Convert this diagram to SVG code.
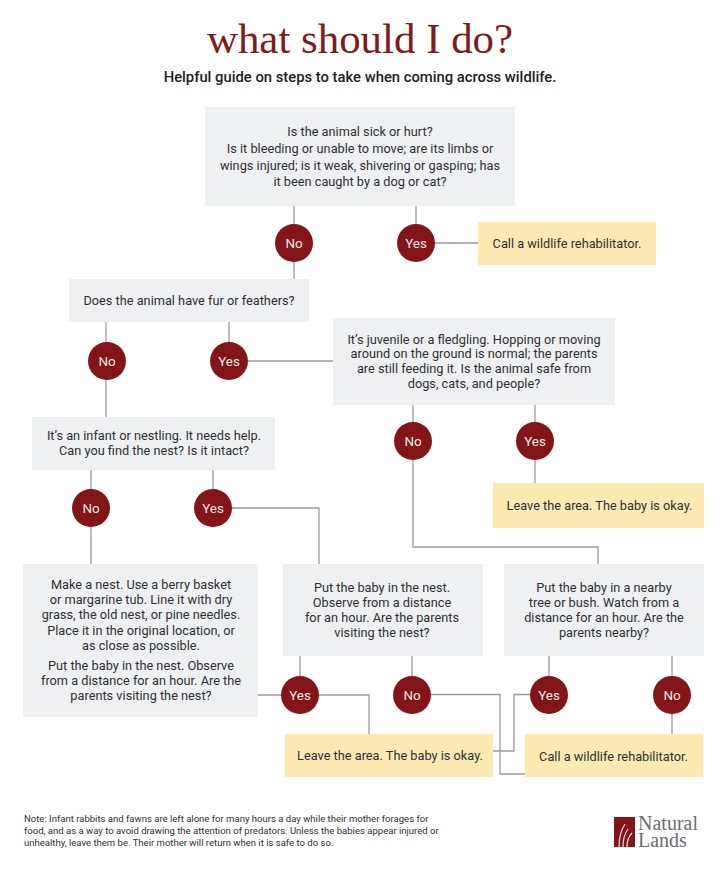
<svg xmlns="http://www.w3.org/2000/svg" width="720" height="871" viewBox="0 0 720 871">
<style>
text{font-family:Roboto,"Liberation Sans",sans-serif;fill:#2e3033;text-anchor:middle;font-size:12.75px}
.g{fill:#eff0f2}.y{fill:#fde9b2}.c{fill:#831518}
.l{fill:#f5e8e8;font-size:13.4px}
.n{text-anchor:start;font-size:9.54px}
.s{font-family:"Liberation Serif",serif;font-size:20px;text-anchor:start;fill:#6d6e70}
#connectors path{fill:none;stroke:#9a9a9a;stroke-width:1.3}
</style>
<rect width="720" height="871" fill="#fff"/>
<text id="title" x="360" y="53" style="font-family:'Liberation Serif',serif;font-size:42.9px;fill:#7f1a20">what should I do?</text>
<text id="subtitle" x="360" y="82" style="font-size:14.8px;font-weight:500;fill:#1e2022">Helpful guide on steps to take when coming across wildlife.</text>
<g id="connectors">
<path d="M294 206V279M416 206V243H478"/>
<path d="M106 322V417M229 322V361H333"/>
<path d="M413 405V547H598V564M535 405V483"/>
<path d="M91 470V564M213 470V508H319V564"/>
<path d="M258 695H369V734M412 656V694.500H500V774H525"/>
<path d="M493 751H514V694.500H549M549 656V695M672 656V734M300 656V695"/>
</g>
<g id="n1"><rect class="g" x="205" y="107" width="310" height="99"/><text x="360" y="136">Is the animal sick or hurt?</text><text x="360" y="153">Is it bleeding or unable to move; are its limbs or</text><text x="360" y="170">wings injured; is it weak, shivering or gasping; has</text><text x="360" y="186">it been caught by a dog or cat?</text></g>
<g id="n2"><rect class="y" x="478" y="222" width="178" height="43"/><text x="567" y="248">Call a wildlife rehabilitator.</text></g>
<g id="n3"><rect class="g" x="69" y="279" width="240" height="43"/><text x="189" y="305">Does the animal have fur or feathers?</text></g>
<g id="n4"><rect class="g" x="333" y="318" width="282" height="87"/><text x="474" y="344">It’s juvenile or a fledgling. Hopping or moving</text><text x="474" y="358">around on the ground is normal; the parents</text><text x="474" y="373">are still feeding it. Is the animal safe from</text><text x="474" y="388">dogs, cats, and people?</text></g>
<g id="n5"><rect class="g" x="32" y="417" width="243" height="53"/><text x="154" y="440">It’s an infant or nestling. It needs help.</text><text x="154" y="455">Can you find the nest? Is it intact?</text></g>
<g id="n6"><rect class="y" x="493" y="483" width="211" height="45"/><text x="599.500" y="510">Leave the area. The baby is okay.</text></g>
<g id="n7"><rect class="g" x="23" y="564" width="235" height="153"/><text x="141" y="589">Make a nest. Use a berry basket</text><text x="141" y="604">or margarine tub. Line it with dry</text><text x="141" y="619">grass, the old nest, or pine needles.</text><text x="141" y="635">Place it in the original location, or</text><text x="141" y="650">as close as possible.</text><text x="141" y="670">Put the baby in the nest. Observe</text><text x="141" y="685">from a distance for an hour. Are the</text><text x="141" y="700">parents visiting the nest?</text></g>
<g id="n8"><rect class="g" x="283" y="564" width="200" height="92"/><text x="382" y="592">Put the baby in the nest.</text><text x="382" y="607">Observe from a distance</text><text x="382" y="622">for an hour. Are the parents</text><text x="382" y="637">visiting the nest?</text></g>
<g id="n9"><rect class="g" x="504" y="564" width="200" height="92"/><text x="604" y="592">Put the baby in a nearby</text><text x="604" y="607">tree or bush. Watch from a</text><text x="604" y="622">distance for an hour. Are the</text><text x="604" y="637">parents nearby?</text></g>
<g id="n10"><rect class="y" x="285" y="734" width="208" height="43"/><text x="390" y="760">Leave the area. The baby is okay.</text></g>
<g id="n11"><rect class="y" x="525" y="734" width="178" height="43"/><text x="613.500" y="761">Call a wildlife rehabilitator.</text></g>
<g id="c1"><circle class="c" cx="294" cy="243" r="19"/><text class="l" x="294" y="248">No</text></g>
<g id="c2"><circle class="c" cx="416" cy="243" r="19"/><text class="l" x="416" y="248">Yes</text></g>
<g id="c3"><circle class="c" cx="107" cy="361" r="19"/><text class="l" x="107" y="366">No</text></g>
<g id="c4"><circle class="c" cx="229" cy="361" r="19"/><text class="l" x="229" y="366">Yes</text></g>
<g id="c5"><circle class="c" cx="413" cy="441" r="19"/><text class="l" x="413" y="446">No</text></g>
<g id="c6"><circle class="c" cx="535" cy="441" r="19"/><text class="l" x="535" y="446">Yes</text></g>
<g id="c7"><circle class="c" cx="91" cy="508" r="19"/><text class="l" x="91" y="513">No</text></g>
<g id="c8"><circle class="c" cx="213" cy="508" r="19"/><text class="l" x="213" y="513">Yes</text></g>
<g id="c9"><circle class="c" cx="300" cy="695" r="19"/><text class="l" x="300" y="700">Yes</text></g>
<g id="c10"><circle class="c" cx="412" cy="695" r="19"/><text class="l" x="412" y="700">No</text></g>
<g id="c11"><circle class="c" cx="549" cy="695" r="19"/><text class="l" x="549" y="700">Yes</text></g>
<g id="c12"><circle class="c" cx="672" cy="695" r="19"/><text class="l" x="672" y="700">No</text></g>
<g id="note"><text class="n" x="24" y="822">Note: Infant rabbits and fawns are left alone for many hours a day while their mother forages for</text><text class="n" x="24" y="834">food, and as a way to avoid drawing the attention of predators. Unless the babies appear injured or</text><text class="n" x="24" y="846">unhealthy, leave them be. Their mother will return when it is safe to do so.</text></g>
<g id="logo"><rect x="614" y="817" width="21" height="30" fill="#831518"/><path d="M619 847C619 838 621 830 625 824M623 847C623 840 625 833 628 829M627 847C627 841 629 836 632 833" fill="none" stroke="#f3dcdc" stroke-width="1.2"/><text class="s" x="638" y="830">Natural</text><text class="s" x="638" y="847">Lands</text></g>
</svg>
